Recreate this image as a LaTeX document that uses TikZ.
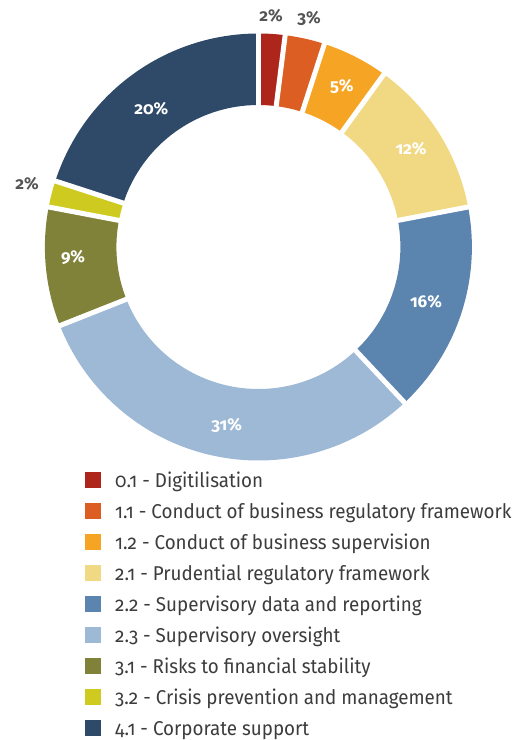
\documentclass[tikz,border=0pt]{standalone}
\usepackage{fontspec}
\setmainfont{Fira Sans}[Numbers=OldStyle]
\newfontfamily\legfont{Fira Sans}[Numbers=OldStyle,FakeStretch=0.94]
\definecolor{cRed}{HTML}{AE251C}
\definecolor{cOrange}{HTML}{DD5E22}
\definecolor{cAmber}{HTML}{F5A523}
\definecolor{cSand}{HTML}{F1D983}
\definecolor{cBlue}{HTML}{5B85AF}
\definecolor{cLightBlue}{HTML}{9EB9D5}
\definecolor{cOlive}{HTML}{808239}
\definecolor{cLime}{HTML}{CFCA1F}
\definecolor{cNavy}{HTML}{2E4A68}
\definecolor{cText}{HTML}{3C3C3C}
\definecolor{cPctOut}{HTML}{555555}
\begin{document}
\begin{tikzpicture}[x=1pt,y=1pt,
  pctin/.style={anchor=base,text=white,font=\fontsize{17}{17}\selectfont\bfseries,inner sep=0pt},
  pctout/.style={anchor=base,text=cPctOut,font=\fontsize{17}{17}\selectfont\bfseries,inner sep=0pt},
  legbox/.style={minimum width=16pt,minimum height=16pt,inner sep=0pt,anchor=center},
  legtext/.style={anchor=base west,text=cText,font=\legfont\fontsize{20}{22}\selectfont,inner sep=0pt},
  gapline/.style={white,line width=5pt}]
\useasboundingbox (0,0) rectangle (520,-740);
\coordinate (C) at (258.4,-247);
\def\Rin{142}
\def\Rout{213.5}
% segments: start angle, end angle (math, clockwise), colour
\foreach \a/\b/\c in {90/82.8/cRed, 82.8/72/cOrange, 72/54/cAmber, 54/10.8/cSand,
  10.8/-46.8/cBlue, -46.8/-158.4/cLightBlue, -158.4/-190.8/cOlive,
  -190.8/-198/cLime, -198/-270/cNavy}{
  \fill[\c,shift={(C)}] (\a:\Rin) arc[start angle=\a,end angle=\b,radius=\Rin]
     -- (\b:\Rout) arc[start angle=\b,end angle=\a,radius=\Rout] -- cycle;
}
\foreach \a in {90,82.8,72,54,10.8,-46.8,-158.4,-190.8,-198}{
  \draw[gapline,shift={(C)}] (\a:\Rin-4) -- (\a:\Rout+4);
}
% percentage labels
\node[pctout] (p01) at (271,-21.5) {2\%};
\node[pctout] (p11) at (309,-23) {3\%};
\node[pctin] (p12) at (341.7,-91) {5\%};
\node[pctin] (p21) at (411,-154) {12\%};
\node[pctin] (p22) at (426,-307) {16\%};
\node[pctin] (p23) at (226.7,-430) {31\%};
\node[pctin] (p31) at (73,-262) {9\%};
\node[pctout] (p32) at (27,-189) {2\%};
\node[pctin] (p41) at (151.3,-114) {20\%};
% legend
\foreach \i/\c/\t in {0/cRed/0.1 - Digitilisation,
  1/cOrange/1.1 - Conduct of business regulatory framework,
  2/cAmber/1.2 - Conduct of business supervision,
  3/cSand/2.1 - Prudential regulatory framework,
  4/cBlue/2.2 - Supervisory data and reporting,
  5/cLightBlue/2.3 - Supervisory oversight,
  6/cOlive/3.1 - Risks to financial stability,
  7/cLime/3.2 - Crisis prevention and management,
  8/cNavy/4.1 - Corporate support}{
  \node[legbox,fill=\c] (box\i) at (93,-480-31*\i) {};
  \node[legtext] (lab\i) at (115,-487.5-31*\i) {\t};
}
\end{tikzpicture}
\end{document}
